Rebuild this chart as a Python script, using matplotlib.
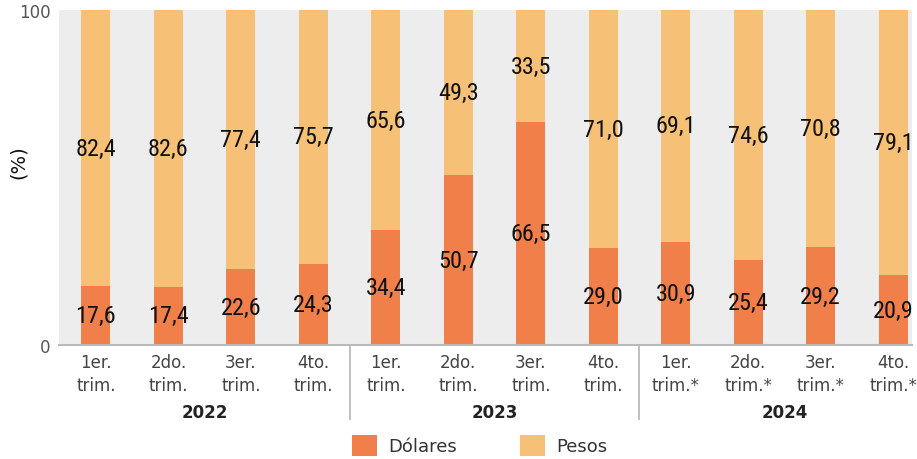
import matplotlib
matplotlib.use("Agg")
import matplotlib.pyplot as plt
from matplotlib.patches import Patch
from matplotlib import font_manager as fm

quarters = ["1er.\ntrim.", "2do.\ntrim.", "3er.\ntrim.", "4to.\ntrim.",
            "1er.\ntrim.", "2do.\ntrim.", "3er.\ntrim.", "4to.\ntrim.",
            "1er.\ntrim.*", "2do.\ntrim.*", "3er.\ntrim.*", "4to.\ntrim.*"]
years = ["2022", "2023", "2024"]
dolares = [17.6, 17.4, 22.6, 24.3, 34.4, 50.7, 66.5, 29.0, 30.9, 25.4, 29.2, 20.9]
pesos = [82.4, 82.6, 77.4, 75.7, 65.6, 49.3, 33.5, 71.0, 69.1, 74.6, 70.8, 79.1]

c_dol = "#F07F4A"
c_pes = "#F6C077"
bg = "#EDEDED"

fig = plt.figure(figsize=(9.17, 4.6), dpi=100)
ax = fig.add_axes([0.0643, 0.2478, 0.9302, 0.728])
ax.set_facecolor(bg)

x = list(range(len(quarters)))
w = 0.4
ax.bar(x, dolares, width=w, color=c_dol, zorder=2)
ax.bar(x, pesos, width=w, bottom=dolares, color=c_pes, zorder=2)

def fmt(v):
    return f"{v:.1f}".replace(".", ",")

lp = fm.FontProperties(family=["Roboto Condensed", "DejaVu Sans"],
                       stretch="condensed", weight="normal", size=17.5)
for i in x:
    d, p = dolares[i], pesos[i]
    ax.text(i, d / 2, fmt(d), ha="center", va="center", fontproperties=lp,
            color="#111111", zorder=3)
    ax.text(i, d + p / 2, fmt(p), ha="center", va="center", fontproperties=lp,
            color="#111111", zorder=3)

ax.set_xlim(-0.51, 11.26)
ax.set_ylim(0, 100)
ax.set_yticks([0, 100])
ax.set_yticklabels(["0", "100"], fontsize=12, color="#555555")
ax.set_xticks(x)
ax.set_xticklabels(quarters, fontsize=12, color="#444444", linespacing=1.3)
ax.tick_params(axis="both", length=0)
ax.tick_params(axis="x", pad=6)
ax.tick_params(axis="y", pad=6)
for s in ["top", "right", "left"]:
    ax.spines[s].set_visible(False)
ax.spines["bottom"].set_color("#BBBBBB")
ax.spines["bottom"].set_linewidth(1.5)
ax.spines["bottom"].set_zorder(4)

ax.set_ylabel("(%)", fontsize=14, color="#111111")
ax.yaxis.set_label_coords(-0.036, 0.55)

trans = ax.get_xaxis_transform()
for sep in [3.5, 7.5]:
    ax.plot([sep, sep], [0, -0.22], transform=trans, color="#BBBBBB",
            lw=1.3, clip_on=False)
for k, yr in enumerate(years):
    ax.text(4 * k + 1.5, -0.2, yr, transform=trans, ha="center", va="center",
            fontsize=12, fontweight="bold", color="#222222")

handles = [Patch(facecolor=c_dol, label="Dólares"), Patch(facecolor=c_pes, label="Pesos")]
fig.legend(handles=handles, loc="center", bbox_to_anchor=(0.523, 0.03), ncol=2,
           frameon=False, fontsize=13, handlelength=1.4, handleheight=1.4,
           columnspacing=3.5, handletextpad=0.6, labelcolor="#333333")

fig.savefig("out.png", dpi=100)
